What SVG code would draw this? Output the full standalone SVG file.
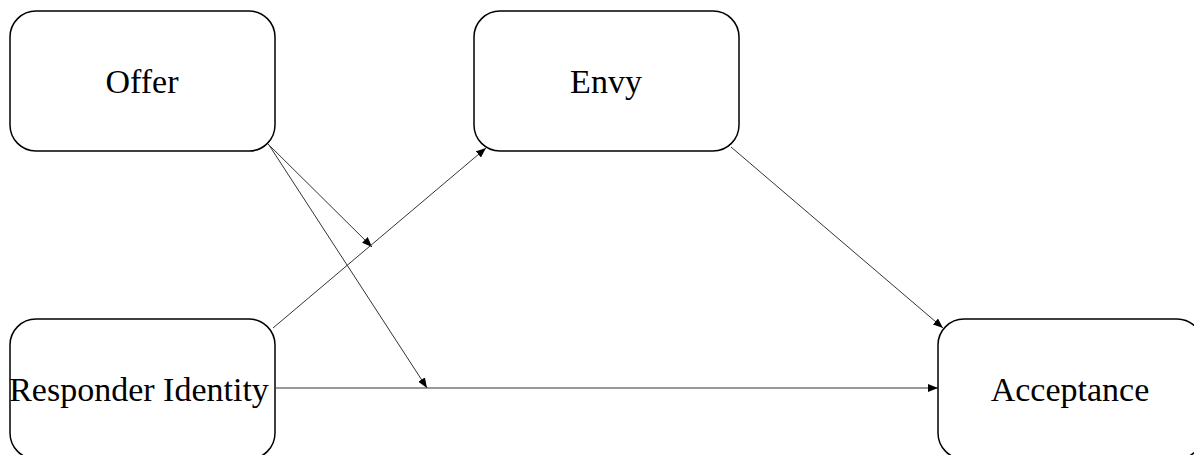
<svg xmlns="http://www.w3.org/2000/svg" width="1194" height="455" viewBox="0 0 1194 455">
<style>
.box{fill:#fff;stroke:#000;stroke-width:1.5}
.lbl{font-family:"Liberation Serif","Times New Roman",serif;font-size:34px;fill:#000;text-anchor:middle;dominant-baseline:central}
.edge{stroke:#333;stroke-width:1;fill:none;marker-end:url(#ah)}
</style>
<defs>
<marker id="ah" markerWidth="10" markerHeight="8" refX="10" refY="4" orient="auto" markerUnits="userSpaceOnUse">
<path d="M0,0 L10,4 L0,8 Z" fill="#000"/>
</marker>
</defs>
<rect width="1194" height="455" fill="#fff"/>
<g id="connectors">
<line class="edge" x1="267" y1="143" x2="372" y2="247"/>
<line class="edge" x1="269" y1="145" x2="427" y2="388"/>
<line class="edge" x1="273" y1="328" x2="486" y2="148"/>
<line class="edge" x1="731" y1="147" x2="943" y2="328"/>
<line class="edge" x1="276" y1="388" x2="938" y2="388"/>
</g>
<g id="offer"><rect class="box" x="10" y="11" width="265" height="140" rx="26"/><text class="lbl" x="142" y="81">Offer</text></g>
<g id="envy"><rect class="box" x="474" y="11" width="265" height="140" rx="26"/><text class="lbl" x="606" y="81">Envy</text></g>
<g id="responder"><rect class="box" x="10" y="319" width="265" height="140" rx="26"/><text class="lbl" x="139" y="389">Responder Identity</text></g>
<g id="acceptance"><rect class="box" x="938" y="319" width="265" height="140" rx="26"/><text class="lbl" x="1070" y="389">Acceptance</text></g>
</svg>
